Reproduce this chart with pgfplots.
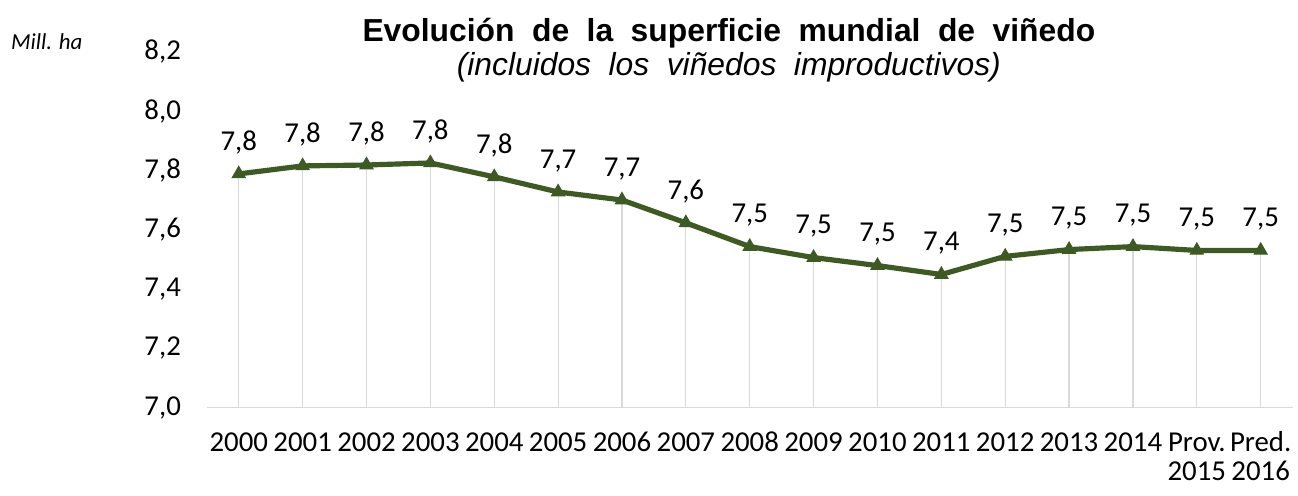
\documentclass[border=0pt]{standalone}
\usepackage{pgfplots}
\pgfplotsset{compat=1.18}
\usepackage{fontspec}
\setmainfont{Carlito}
\newfontfamily\arialfont{Liberation Sans}
\definecolor{linegreen}{HTML}{3D5A22}
\definecolor{gridgray}{HTML}{D9D9D9}
\begin{document}
\begin{tikzpicture}[x=1pt,y=1pt]
\begin{axis}[
  at={(0,0)}, anchor=south west,
  scale only axis,
  width=546pt, height=179pt,
  xmin=-0.5, xmax=16.5,
  ymin=7.0, ymax=8.2,
  xtick={0,...,16},
  xticklabels={\strut 2000,\strut 2001,\strut 2002,\strut 2003,\strut 2004,\strut 2005,\strut 2006,\strut 2007,\strut 2008,\strut 2009,\strut 2010,\strut 2011,\strut 2012,\strut 2013,\strut 2014,{\strut Prov.\\\strut 2015},{\strut Pred.\\\strut 2016}},
  xticklabel style={align=center, anchor=north, yshift=-8.5pt, font=\fontsize{14.5}{14.5}\selectfont},
  ytick={7.0,7.2,...,8.21},
  yticklabel style={font=\fontsize{14.5}{16}\selectfont, xshift=-9.5pt},
  /pgf/number format/assume math mode=true,
  /pgf/number format/use comma,
  /pgf/number format/fixed,
  /pgf/number format/fixed zerofill,
  /pgf/number format/precision=1,
  axis x line*=bottom,
  axis y line*=left,
  y axis line style={draw=none},
  x axis line style={gridgray, line width=0.8pt, -},
  major tick length=0pt,
  tick style={draw=none},
  nodes near coords,
  every node near coord/.append style={font=\fontsize{14.5}{16}\selectfont, anchor=south, yshift=6.5pt, black},
]
\addplot[ycomb, gridgray, line width=0.6pt, mark=none, nodes near coords=]
coordinates {
(0,7.788) (1,7.815) (2,7.818) (3,7.825) (4,7.778) (5,7.727) (6,7.700) (7,7.623)
(8,7.543) (9,7.506) (10,7.479) (11,7.449) (12,7.510) (13,7.533) (14,7.543) (15,7.530) (16,7.530)
};
\addplot[color=linegreen, line width=2.6pt, mark=triangle*, mark size=3.8pt, mark options={fill=linegreen, line width=0.5pt}]
coordinates {
(0,7.788) (1,7.815) (2,7.818) (3,7.825) (4,7.778) (5,7.727) (6,7.700) (7,7.623)
(8,7.543) (9,7.506) (10,7.479) (11,7.449) (12,7.510) (13,7.533) (14,7.543) (15,7.530) (16,7.530)
};
\end{axis}
\node[anchor=west, font=\itshape\fontsize{11.5}{13}\selectfont] at (-102,184) {Mill. ha};
\node[font=\arialfont\bfseries\fontsize{16}{18}\selectfont] at (262.5,188.5) {\spaceskip=0.55em\relax Evolución de la superficie mundial de viñedo};
\node[font=\arialfont\itshape\fontsize{16}{18}\selectfont] at (262.5,171) {\spaceskip=0.55em\relax (incluidos los viñedos improductivos)};
\path[use as bounding box] (-104,-37.5) rectangle (545,205);
\end{tikzpicture}
\end{document}
